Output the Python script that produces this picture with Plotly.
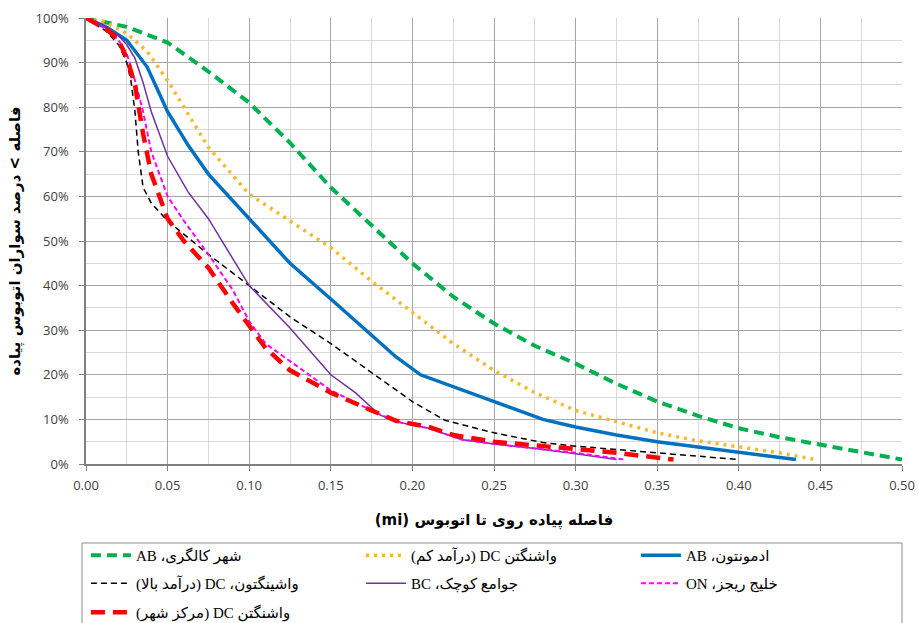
import plotly.graph_objects as go

# ---------------- data ----------------
calgary_x = [0, 0.025, 0.05, 0.075, 0.10, 0.125, 0.15, 0.175, 0.20, 0.225, 0.25, 0.275, 0.30, 0.325, 0.35, 0.375, 0.40, 0.425, 0.45, 0.475, 0.50]
calgary_y = [100, 98, 94.5, 88, 81, 72, 62, 53.5, 45, 37.5, 31.5, 26.5, 22.5, 18, 14, 10.8, 8, 6, 4.3, 2.6, 1]

dc_low_x = [0, 0.0125, 0.025, 0.0375, 0.05, 0.0625, 0.075, 0.10, 0.125, 0.15, 0.175, 0.20, 0.225, 0.25, 0.275, 0.30, 0.325, 0.35, 0.375, 0.40, 0.425, 0.447]
dc_low_y = [100, 99, 96.5, 92.5, 86, 78.5, 71, 60.5, 54.5, 48.5, 41, 34, 27, 21, 16, 12, 9.5, 7, 5.2, 3.8, 2.5, 1]

edm_x = [0, 0.0125, 0.025, 0.0375, 0.05, 0.0625, 0.075, 0.10, 0.125, 0.15, 0.175, 0.19, 0.205, 0.25, 0.28, 0.30, 0.325, 0.35, 0.375, 0.40, 0.435]
edm_y = [100, 98, 95, 89, 79, 71.5, 65, 55, 45, 37, 29, 24, 20, 14, 10, 8.3, 6.5, 5, 3.8, 2.5, 1]

dc_high_x = [0, 0.0125, 0.02, 0.025, 0.0275, 0.03, 0.032, 0.035, 0.04, 0.05, 0.075, 0.10, 0.125, 0.15, 0.175, 0.20, 0.22, 0.25, 0.28, 0.30, 0.35, 0.40]
dc_high_y = [100, 97, 94, 90, 86, 79, 70, 62, 58.5, 54.5, 47, 40, 33, 27, 20.5, 14, 9.8, 7, 4.8, 4, 2.5, 1]

bc_x = [0, 0.0125, 0.02, 0.025, 0.03, 0.035, 0.04, 0.05, 0.0625, 0.075, 0.10, 0.125, 0.15, 0.165, 0.18, 0.19, 0.21, 0.23, 0.25, 0.275, 0.30, 0.325]
bc_y = [100, 98, 96, 94, 91, 85.5, 79, 69, 61, 55, 40, 30.5, 20, 16, 11, 9.5, 8, 5.5, 4.5, 3.5, 2.3, 1]

on_x = [0, 0.0125, 0.02, 0.025, 0.03, 0.035, 0.04, 0.05, 0.06, 0.075, 0.09, 0.10, 0.11, 0.125, 0.15, 0.175, 0.19, 0.21, 0.23, 0.25, 0.275, 0.30, 0.33]
on_y = [100, 97.5, 95, 92, 86, 79, 70, 60, 54.5, 47, 39, 32, 27, 23, 16.5, 12, 9.5, 8, 5.5, 4.5, 3.5, 2.5, 1]

dc_down_x = [0, 0.0125, 0.02, 0.025, 0.03, 0.035, 0.04, 0.05, 0.06, 0.075, 0.09, 0.10, 0.11, 0.125, 0.15, 0.175, 0.19, 0.21, 0.225, 0.25, 0.275, 0.30, 0.325, 0.36]
dc_down_y = [100, 97.5, 95, 91, 85, 74, 65, 55, 50, 44, 36, 31, 26, 21, 16, 12, 9.7, 8.3, 6.5, 5, 4.2, 3.5, 2.5, 1]

names = [
    "شهر کالگری، AB",
    "واشنگتن DC (درآمد کم)",
    "ادمونتون، AB",
    "واشینگتون، DC (درآمد بالا)",
    "جوامع کوچک، BC",
    "خلیج ریجز، ON",
    "واشنگتن DC (مرکز شهر)",
]

x_ticks = [0.00, 0.05, 0.10, 0.15, 0.20, 0.25, 0.30, 0.35, 0.40, 0.45, 0.50]
y_ticks = [0, 10, 20, 30, 40, 50, 60, 70, 80, 90, 100]
y_ticklabels = ["0%", "10%", "20%", "30%", "40%", "50%", "60%", "70%", "80%", "90%", "100%"]

x_title = "(mi) فاصله پیاده روی تا اتوبوس"
y_title = "فاصله > درصد سواران اتوبوس پیاده"

# ---------------- figure ----------------
def rtl(s):
    return "\u202B" + s + "\u202C"

styles = [
    dict(color="#00B050", width=4, dash="10px,6px"),
    dict(color="#F7B82A", width=3.5, dash="3px,5px"),
    dict(color="#0070C0", width=3.5),
    dict(color="#000000", width=1.5, dash="6px,4px"),
    dict(color="#7030A0", width=1.5),
    dict(color="#FF00FF", width=2, dash="5px,3px"),
    dict(color="#FF0000", width=4.5, dash="14px,8px"),
]
xs_all = [calgary_x, dc_low_x, edm_x, dc_high_x, bc_x, on_x, dc_down_x]
ys_all = [calgary_y, dc_low_y, edm_y, dc_high_y, bc_y, on_y, dc_down_y]
legend_rows = ["legend", "legend", "legend", "legend2", "legend2", "legend2", "legend3"]

fig = go.Figure()
for xs, ys, ln, nm, lg in zip(xs_all, ys_all, styles, names, legend_rows):
    fig.add_trace(go.Scatter(x=xs, y=ys, mode="lines", name=rtl(nm), line=ln, legend=lg))

legend_common = dict(
    orientation="h",
    x=-0.0001, xanchor="left", yanchor="top",
    bgcolor="rgba(0,0,0,0)", borderwidth=0,
    entrywidth=220, itemwidth=40,
    font=dict(family="Liberation Serif, DejaVu Sans, serif", size=15, color="#000000"),
    traceorder="normal",
)

fig.update_layout(
    width=919, height=623,
    margin=dict(l=86, r=17, t=18, b=159, autoexpand=False),
    paper_bgcolor="white", plot_bgcolor="white",
    font=dict(family="Open Sans, DejaVu Sans, sans-serif", size=13, color="#404040"),
    showlegend=True,
    legend=dict(legend_common, y=-0.168),
    legend2=dict(legend_common, y=-0.231),
    legend3=dict(legend_common, y=-0.296),
    shapes=[dict(type="rect", xref="paper", yref="paper",
                 x0=-0.0049, x1=1.0, y0=-0.1771, y1=-0.40,
                 line=dict(color="#8c8c8c", width=1), fillcolor="rgba(0,0,0,0)", layer="below")],
)

fig.update_xaxes(
    range=[0, 0.5],
    tickvals=x_ticks, tickformat=".2f",
    showgrid=True, gridcolor="#a6a6a6", gridwidth=1,
    minor=dict(dtick=0.025, tick0=0, showgrid=True, gridcolor="#d9d9d9", gridwidth=1),
    showline=True, linecolor="#808080", linewidth=1.5,
    ticks="outside", ticklen=5, tickcolor="#808080",
    ticklabelstandoff=4,
    zeroline=False,
    tickfont=dict(size=13, color="#404040"),
    title=dict(text=x_title, standoff=21,
               font=dict(family="DejaVu Sans, sans-serif", size=15, color="#000000", weight="bold")),
)
fig.update_yaxes(
    range=[0, 100],
    tickvals=y_ticks, ticktext=y_ticklabels,
    showgrid=True, gridcolor="#a6a6a6", gridwidth=1,
    minor=dict(dtick=5, tick0=0, showgrid=True, gridcolor="#d9d9d9", gridwidth=1),
    showline=True, linecolor="#808080", linewidth=1.5,
    ticks="outside", ticklen=5, tickcolor="#808080",
    ticklabelstandoff=8,
    zeroline=False,
    tickfont=dict(size=13, color="#404040"),
    title=dict(text=y_title, standoff=11,
               font=dict(family="DejaVu Sans, sans-serif", size=15, color="#000000", weight="bold")),
)

fig.write_html("out.html", config={"displayModeBar": False},
               post_script="document.body.style.margin='0';")
